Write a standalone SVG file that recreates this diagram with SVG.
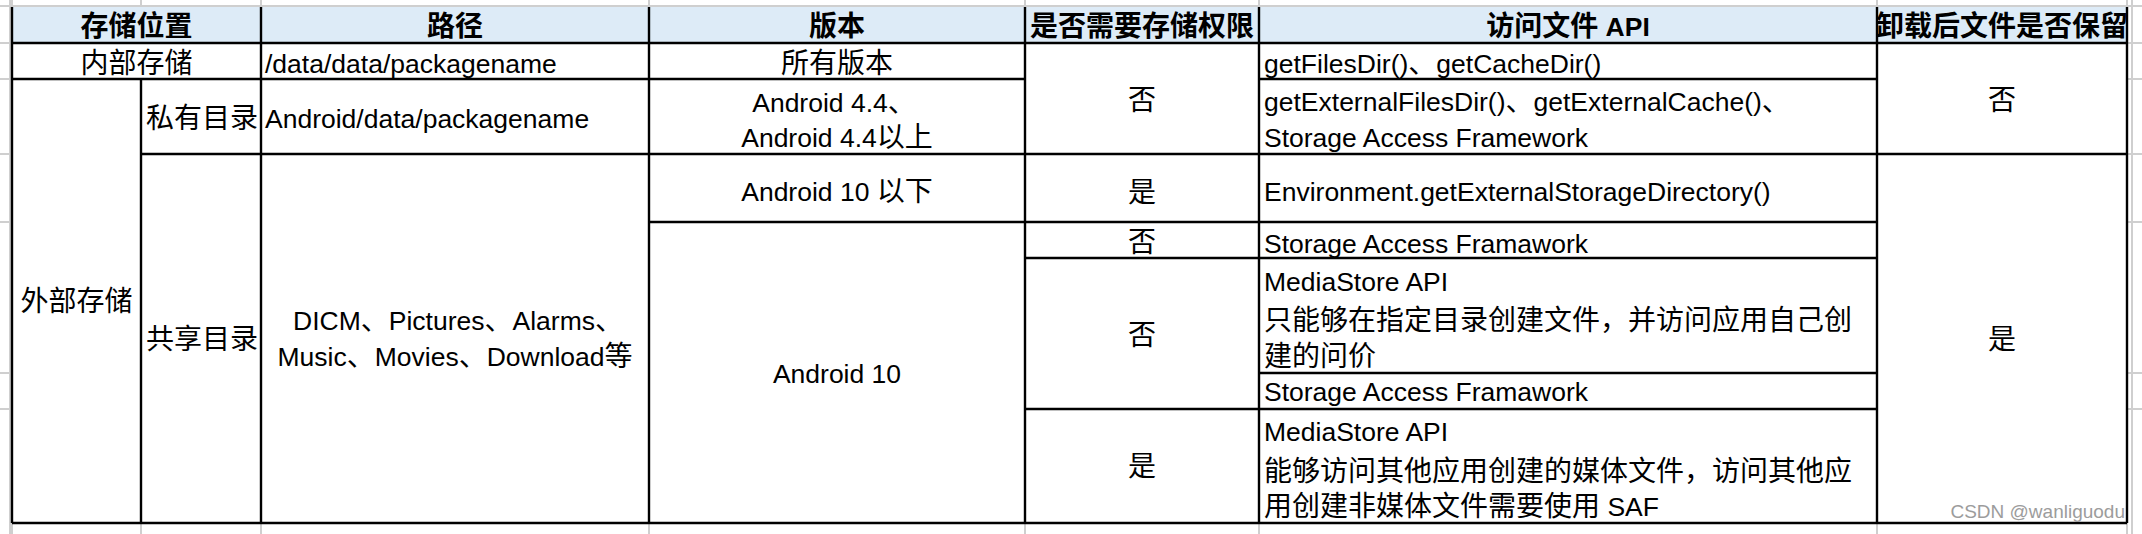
<svg xmlns="http://www.w3.org/2000/svg" width="2142" height="534" viewBox="0 0 2142 534">
<style>
.t{font-family:"Liberation Sans","Noto Sans CJK SC",sans-serif;font-size:26.5px;fill:#000}
.c{font-family:"Noto Sans CJK SC",sans-serif;font-size:28px}
.h{font-weight:bold}
.m{text-anchor:middle}
.b{stroke:#000;stroke-width:2.4;fill:none}
.g{stroke:#cfcfcf;stroke-width:2;fill:none}
.wm{font-family:"Liberation Sans",sans-serif;font-size:19px;fill:#9c9c9c;text-anchor:end}
</style>
<rect width="2142" height="534" fill="#fff"/>
<g id="sheet-grid" class="g">
<path d="M0 6H2142M10 0V534M2132 0V534"/>
<path d="M12 0V7M141 0V7M261 0V7M649 0V7M1025 0V7M1259 0V7M1877 0V7M2127 0V7"/>
<path d="M12 523V534M141 523V534M261 523V534M649 523V534M1025 523V534M1259 523V534M1877 523V534M2127 523V534"/>
<path d="M0 43H12M0 79H12M0 154H12M0 222H12M0 373H12M0 409H12"/>
<path d="M2127 43H2142M2127 79H2142M2127 154H2142M2127 222H2142M2127 373H2142M2127 409H2142"/>
</g>
<rect id="header-fill" x="12" y="7" width="2115" height="36" fill="#DDEBF7"/>
<g id="connectors" class="b">
<path d="M12 43H2127M12 79H1025M1259 79H1877M141 154H2127M649 222H1877M1025 258H1877M1259 373H1877M1025 409H1877M12 523H2127"/>
<path d="M12 7V523M141 79V523M261 7V523M649 7V523M1025 7V523M1259 7V523M1877 7V523M2127 7V523"/>
</g>
<g id="header">
<text class="t c h m" x="136.5" y="35.5">存储位置</text>
<text class="t c h m" x="455" y="35.5">路径</text>
<text class="t c h m" x="837" y="35.5">版本</text>
<text class="t c h m" x="1142" y="35.5">是否需要存储权限</text>
<text class="t h m" x="1568" y="35.5"><tspan class="c">访问文件</tspan> API</text>
<text class="t c h m" x="2002" y="35.5">卸载后文件是否保留</text>
</g>
<g id="internal-storage">
<text class="t c m" x="136.5" y="73">内部存储</text>
<text class="t" x="265" y="73">/data/data/packagename</text>
<text class="t c m" x="837" y="73">所有版本</text>
<text class="t" x="1264" y="73">getFilesDir()<tspan class="c">、</tspan>getCacheDir()</text>
</g>
<g id="permission-no-1"><text class="t c m" x="1142" y="110">否</text></g>
<g id="retain-no"><text class="t c m" x="2002" y="110">否</text></g>
<g id="external-storage"><text class="t c m" x="76.5" y="310.5">外部存储</text></g>
<g id="private-dir">
<text class="t c m" x="202" y="128">私有目录</text>
<text class="t" x="265" y="128">Android/data/packagename</text>
<text class="t m" x="834" y="111.5">Android 4.4<tspan class="c">、</tspan></text>
<text class="t m" x="837" y="146.5">Android 4.4<tspan class="c">以上</tspan></text>
<text class="t" x="1264" y="110.5">getExternalFilesDir()<tspan class="c">、</tspan>getExternalCache()<tspan class="c">、</tspan></text>
<text class="t" x="1264" y="146.5">Storage Access Framework</text>
</g>
<g id="shared-dir">
<text class="t c m" x="202" y="348.5">共享目录</text>
<text class="t m" x="458" y="330">DICM<tspan class="c">、</tspan>Pictures<tspan class="c">、</tspan>Alarms<tspan class="c">、</tspan></text>
<text class="t m" x="455" y="366">Music<tspan class="c">、</tspan>Movies<tspan class="c">、</tspan>Download<tspan class="c">等</tspan></text>
</g>
<g id="below-android-10">
<text class="t m" x="837" y="201">Android 10 <tspan class="c">以下</tspan></text>
<text class="t c m" x="1142" y="202">是</text>
<text class="t" x="1264" y="200.5">Environment.getExternalStorageDirectory()</text>
</g>
<g id="android-10"><text class="t m" x="837" y="383">Android 10</text></g>
<g id="saf-no-permission">
<text class="t c m" x="1142" y="251.5">否</text>
<text class="t" x="1264" y="252.5">Storage Access Framawork</text>
</g>
<g id="mediastore-no-permission">
<text class="t c m" x="1142" y="345">否</text>
<text class="t" x="1264" y="290.5">MediaStore API</text>
<text class="t c" x="1264" y="329.5">只能够在指定目录创建文件，并访问应用自己创</text>
<text class="t c" x="1264" y="365.5">建的问价</text>
<text class="t" x="1264" y="401">Storage Access Framawork</text>
</g>
<g id="mediastore-permission">
<text class="t c m" x="1142" y="476">是</text>
<text class="t" x="1264" y="440.5">MediaStore API</text>
<text class="t c" x="1264" y="480.5">能够访问其他应用创建的媒体文件，访问其他应</text>
<text class="t" x="1264" y="515.5"><tspan class="c">用创建非媒体文件需要使用</tspan> SAF</text>
</g>
<g id="retain-yes"><text class="t c m" x="2002" y="348.5">是</text></g>
<text class="wm" x="2125" y="518">CSDN @wanliguodu</text>
</svg>
